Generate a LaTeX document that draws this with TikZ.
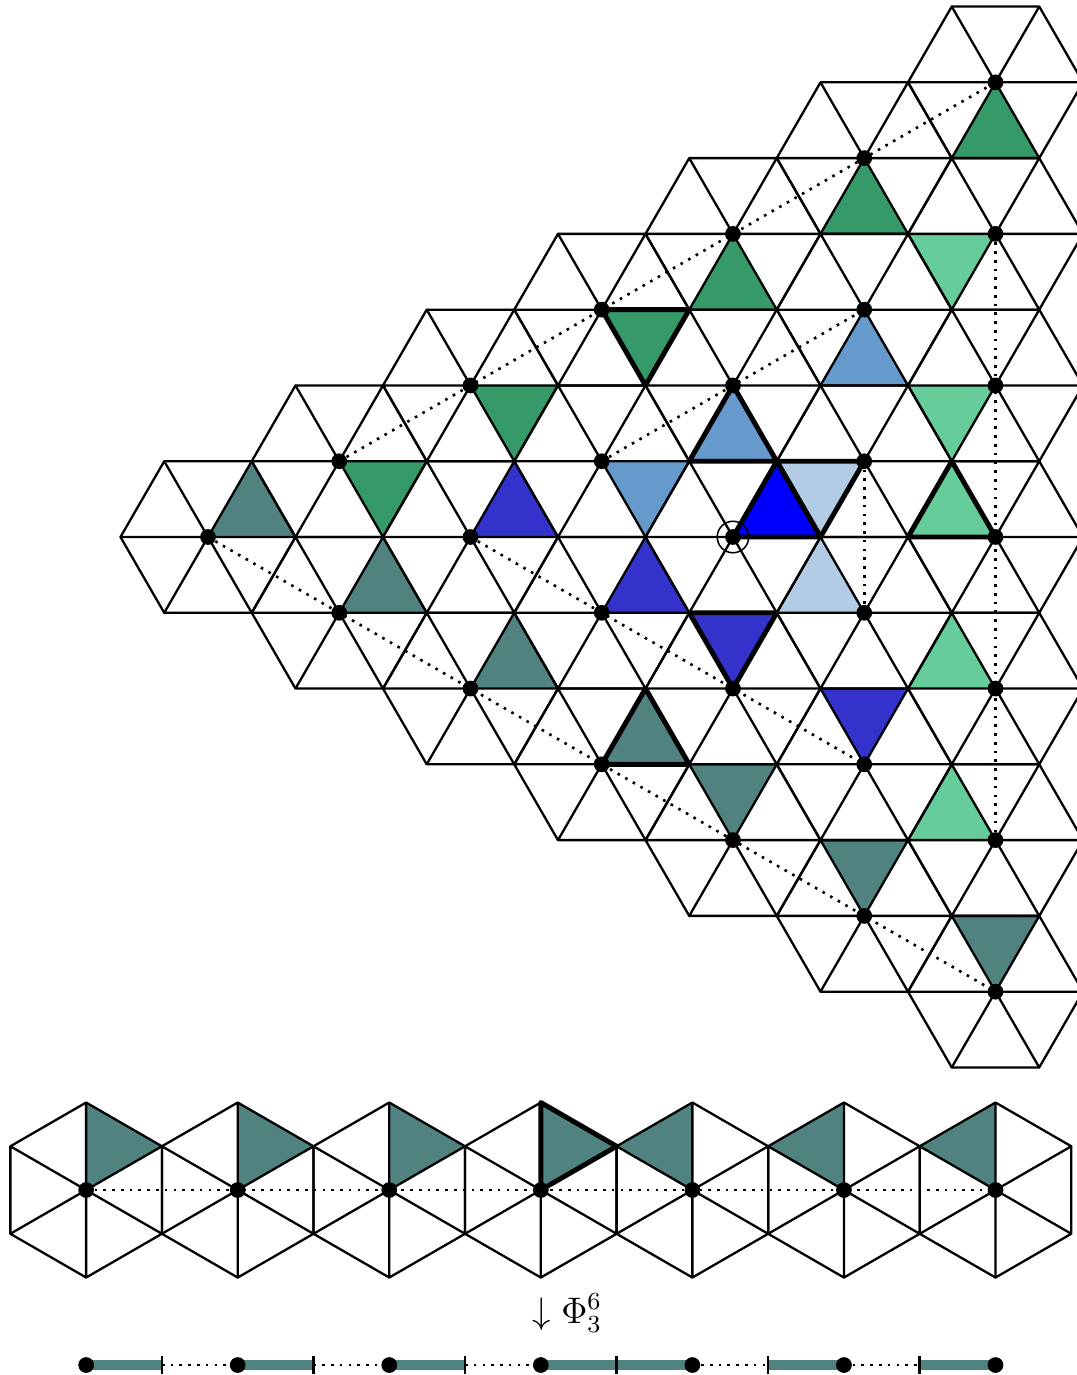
\documentclass[tikz,border=0pt]{standalone}
\usepackage{amsmath,amssymb}
\usepackage{tikz}
\usetikzlibrary{calc}
\definecolor{hgreen}{HTML}{369A68}
\definecolor{hteal}{HTML}{508280}
\definecolor{hmint}{HTML}{66CC99}
\definecolor{hblue}{HTML}{3333CC}
\definecolor{hsteel}{HTML}{6699CC}
\definecolor{hsky}{HTML}{B3CCE6}
\definecolor{hbright}{HTML}{0000FF}
\tikzset{
  grid/.style={draw=black,line width=0.75pt,line join=round},
  rim/.style={draw=black,line width=1.6pt,line join=round},
  dotln/.style={draw=black,line width=0.85pt,dotted},
  hub/.style={circle,fill=black,inner sep=0pt,minimum size=0.18cm},
  bar/.style={draw=hteal,line width=3pt},
  tmark/.style={draw=black,line width=0.8pt},
}
% one triangle of a hexagon: centre, sector, path options
\newcommand{\hexsec}[3]{\path[#3] (#1) -- +(#2*60:1) -- +(#2*60+60:1) -- cycle;}
\newcommand{\botsec}[3]{\path[#3] (#1) -- +(#2*60+30:1) -- +(#2*60+90:1) -- cycle;}

\begin{document}
\begin{tikzpicture}
  \useasboundingbox (-8.377,-9.577) rectangle (3.931,6.137);
  \clip (-8.377,-9.577) rectangle (3.931,6.137);
  % hexagon centres
  \foreach \i in {0,...,6}{
    \foreach \j in {0,...,6}{
      \pgfmathtruncatemacro{\hsum}{\i+\j}
      \ifnum\hsum<7
        \coordinate (h\i\j) at ({1.5*(\i+\j-4)},{sqrt(3)/2*(\i-\j)});
      \fi
    }
  }
  % coloured triangles
  \foreach \c/\k/\col in {h00/0/hteal,h01/0/hteal,h02/0/hteal,h03/0/hteal,
      h04/1/hteal,h05/1/hteal,h06/1/hteal,
      h10/5/hgreen,h20/5/hgreen,h30/5/hgreen,h40/4/hgreen,h50/4/hgreen,h60/4/hgreen,
      h51/3/hmint,h42/3/hmint,h33/2/hmint,h24/2/hmint,h15/2/hmint,
      h11/0/hblue,h12/0/hblue,h13/1/hblue,h14/1/hblue,
      h21/5/hsteel,h31/4/hsteel,h41/4/hsteel,
      h32/3/hsky,h23/2/hsky,h22/0/hbright}{
    \hexsec{\c}{\k}{fill=\col}
  }
  % lattice
  \foreach \i in {0,...,6}{
    \foreach \j in {0,...,6}{
      \pgfmathtruncatemacro{\hsum}{\i+\j}
      \ifnum\hsum<7
        \foreach \t in {0,...,5}{
          \draw[grid] (h\i\j) -- +(\t*60:1) -- +(\t*60+60:1);
        }
      \fi
    }
  }
  \foreach \c/\k in {h03/0,h30/5,h33/2,h13/1,h31/4,h32/3,h22/0}{
    \hexsec{\c}{\k}{rim}
  }
  % centres
  \foreach \i in {0,...,6}{
    \foreach \j in {0,...,6}{
      \pgfmathtruncatemacro{\hsum}{\i+\j}
      \ifnum\hsum<7
        \node[hub] (d\i\j) at (h\i\j) {};
      \fi
    }
  }
  \draw[dotln] (d00) -- (d06);
  \draw[dotln] (d10) -- (d60);
  \draw[dotln] (d51) -- (d15);
  \draw[dotln] (d11) -- (d14);
  \draw[dotln] (d21) -- (d41);
  \draw[dotln] (d32) -- (d23);
  \draw[line width=0.5pt] (d22) circle (0.18);

  % row of hexagons
  \foreach \k in {1,...,7}{
    \coordinate (b\k) at ({3-(7-\k)*sqrt(3)},-7.463);
  }
  \foreach \k in {1,...,4}{\botsec{b\k}{0}{fill=hteal}}
  \foreach \k in {5,6,7}{\botsec{b\k}{1}{fill=hteal}}
  \foreach \k in {1,...,7}{
    \foreach \t in {0,...,5}{
      \draw[grid] (b\k) -- +(\t*60+30:1) -- +(\t*60+90:1);
    }
  }
  \botsec{b4}{0}{rim}
  \foreach \k in {1,...,7}{\node[hub] (e\k) at (b\k) {};}
  \draw[dotln] (e1) -- (e7);

  \node[anchor=base west,inner sep=0pt,font=\large] (proj) at ($(b4)+(-0.1,-1.52)$) {$\downarrow \Phi_3^6$};

  % projected line
  \foreach \k in {1,...,7}{
    \coordinate (p\k) at ($(b\k)+(0,-2)$);
  }
  \foreach \k [evaluate=\k as \n using int(\k+1)] in {1,...,6}{
    \coordinate (q\k) at ($(p\k)!0.5!(p\n)$);
  }
  \draw[bar] (p1) -- (q1);
  \draw[bar] (p2) -- (q2);
  \draw[bar] (p3) -- (q3);
  \draw[bar] (p4) -- (q4) -- (p5);
  \draw[bar] (q5) -- (p6);
  \draw[bar] (q6) -- (p7);
  \draw[dotln] (q1) -- (p2);
  \draw[dotln] (q2) -- (p3);
  \draw[dotln] (q3) -- (p4);
  \draw[dotln] (p5) -- (q5);
  \draw[dotln] (p6) -- (q6);
  \foreach \k in {1,...,6}{
    \draw[tmark] ($(q\k)+(0,-0.1)$) -- ($(q\k)+(0,0.1)$);
  }
  \foreach \k in {1,...,7}{\node[hub] (r\k) at (p\k) {};}
\end{tikzpicture}
\end{document}
